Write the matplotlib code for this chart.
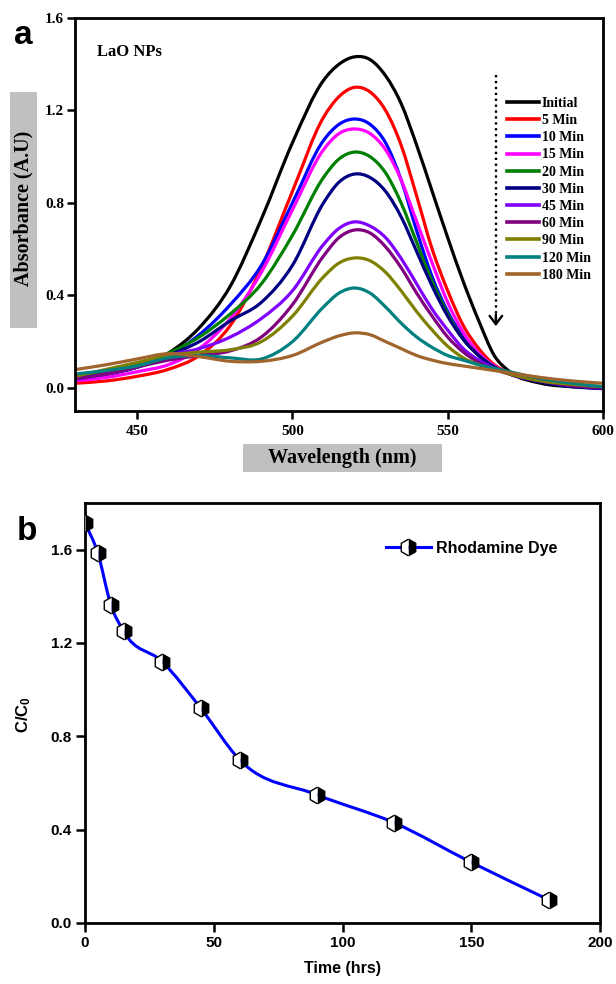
import numpy as np
import matplotlib
matplotlib.use("Agg")
import matplotlib.pyplot as plt
from matplotlib.path import Path
from matplotlib.patches import PathPatch, Rectangle
from matplotlib.lines import Line2D

# ---------------- data: panel a (UV-vis spectra) ----------------
wavelength = [430, 440, 450, 460, 470, 480, 490, 500, 510, 515, 520, 525,
              530, 535, 540, 545, 550, 555, 560, 565, 570, 580, 590, 600]

abs_initial = [0.04, 0.058, 0.09, 0.15, 0.26, 0.44, 0.73, 1.06, 1.33, 1.40, 1.432, 1.42,
               1.35, 1.23, 1.05, 0.85, 0.65, 0.46, 0.29, 0.14, 0.07, 0.02, 0.005, 0.0]
abs_5min = [0.02, 0.03, 0.05, 0.08, 0.14, 0.27, 0.52, 0.85, 1.17, 1.26, 1.30, 1.28,
            1.20, 1.05, 0.83, 0.60, 0.42, 0.27, 0.17, 0.10, 0.065, 0.03, 0.01, 0.005]
abs_10min = [0.035, 0.06, 0.09, 0.14, 0.23, 0.36, 0.53, 0.80, 1.07, 1.14, 1.163, 1.14,
             1.06, 0.90, 0.68, 0.48, 0.33, 0.22, 0.14, 0.09, 0.06, 0.03, 0.008, -0.003]
abs_15min = [0.03, 0.045, 0.07, 0.10, 0.17, 0.30, 0.50, 0.77, 1.03, 1.10, 1.12, 1.10,
             1.03, 0.90, 0.72, 0.54, 0.37, 0.24, 0.15, 0.095, 0.06, 0.03, 0.01, 0.0]
abs_20min = [0.05, 0.07, 0.10, 0.15, 0.22, 0.32, 0.45, 0.66, 0.91, 0.99, 1.02, 1.00,
             0.93, 0.80, 0.63, 0.46, 0.32, 0.21, 0.14, 0.09, 0.06, 0.03, 0.01, 0.0]
abs_30min = [0.04, 0.06, 0.09, 0.14, 0.20, 0.29, 0.37, 0.53, 0.80, 0.89, 0.925, 0.91,
             0.85, 0.74, 0.59, 0.44, 0.31, 0.21, 0.14, 0.09, 0.06, 0.025, 0.005, -0.003]
abs_45min = [0.035, 0.06, 0.09, 0.14, 0.17, 0.22, 0.30, 0.42, 0.62, 0.69, 0.718, 0.70,
             0.65, 0.56, 0.45, 0.34, 0.25, 0.17, 0.12, 0.085, 0.06, 0.03, 0.01, 0.0]
abs_60min = [0.04, 0.06, 0.09, 0.12, 0.14, 0.16, 0.22, 0.36, 0.57, 0.65, 0.683, 0.67,
             0.61, 0.52, 0.41, 0.31, 0.22, 0.155, 0.11, 0.08, 0.06, 0.03, 0.01, 0.0]
abs_90min = [0.05, 0.08, 0.11, 0.14, 0.155, 0.165, 0.20, 0.31, 0.48, 0.54, 0.562, 0.55,
             0.50, 0.42, 0.33, 0.25, 0.18, 0.13, 0.10, 0.08, 0.06, 0.03, 0.015, 0.005]
abs_120min = [0.06, 0.075, 0.095, 0.13, 0.14, 0.13, 0.125, 0.20, 0.35, 0.41, 0.432, 0.41,
              0.35, 0.28, 0.22, 0.175, 0.14, 0.12, 0.10, 0.085, 0.07, 0.04, 0.02, 0.005]
abs_180min = [0.079, 0.10, 0.125, 0.148, 0.135, 0.115, 0.115, 0.14, 0.20, 0.225, 0.238, 0.23,
              0.20, 0.17, 0.14, 0.12, 0.105, 0.095, 0.085, 0.075, 0.065, 0.045, 0.03, 0.02]

series_labels = ["Initial", "5 Min", "10 Min", "15 Min", "20 Min", "30 Min",
                 "45 Min", "60 Min", "90 Min", "120 Min", "180 Min"]
series_values = [abs_initial, abs_5min, abs_10min, abs_15min, abs_20min, abs_30min,
                 abs_45min, abs_60min, abs_90min, abs_120min, abs_180min]
series_colors = ["#000000", "#FF0000", "#0000FF", "#FF00FF", "#008000", "#000080",
                 "#8000FF", "#800080", "#808000", "#008080", "#A0642D"]

xticks_a = [450, 500, 550, 600]
yticks_a = [0.0, 0.4, 0.8, 1.2, 1.6]

# ---------------- data: panel b (degradation) ----------------
time_hrs = [0, 5, 10, 15, 30, 45, 60, 90, 120, 150, 180]
c_over_c0 = [1.715, 1.585, 1.365, 1.25, 1.12, 0.92, 0.70, 0.55, 0.43, 0.26, 0.10]

xticks_b = [0, 50, 100, 150, 200]
yticks_b = [0.0, 0.4, 0.8, 1.2, 1.6]


def smooth_path(x, y):
    """Cubic Hermite curve through the given points, as a Bezier path."""
    x = np.asarray(x, float)
    y = np.asarray(y, float)
    m = np.gradient(y, x)
    verts = [(x[0], y[0])]
    codes = [Path.MOVETO]
    for i in range(len(x) - 1):
        h = x[i + 1] - x[i]
        verts += [(x[i] + h / 3, y[i] + m[i] * h / 3),
                  (x[i + 1] - h / 3, y[i + 1] - m[i + 1] * h / 3),
                  (x[i + 1], y[i + 1])]
        codes += [Path.CURVE4] * 3
    return Path(verts, codes)


SERIF = "Liberation Serif"
SANS = "Liberation Sans"
plt.rcParams["mathtext.fontset"] = "custom"
plt.rcParams["mathtext.bf"] = "Liberation Sans:bold"
plt.rcParams["mathtext.rm"] = "Liberation Sans:bold"

W, H = 616, 984
fig = plt.figure(figsize=(W / 100, H / 100), dpi=100)


def fx(px):
    return px / W


def fy(py):
    return 1 - py / H


# ================= panel a =================
axa = fig.add_axes([fx(75), fy(411), fx(603) - fx(75), fy(18) - fy(411)])
axa.set_xlim(430, 600)
axa.set_ylim(-0.1, 1.6)
for vals, col in zip(series_values, series_colors):
    axa.add_patch(PathPatch(smooth_path(wavelength, vals), fill=False,
                            edgecolor=col, lw=2.3, capstyle="round",
                            joinstyle="round"))
tick_font_a = {"family": SERIF, "weight": "bold", "size": 11}
axa.set_xticks(xticks_a)
axa.set_xticklabels([str(v) for v in xticks_a], fontdict=tick_font_a)
axa.set_yticks(yticks_a)
axa.set_yticklabels([f"{v:.1f}" for v in yticks_a], fontdict=tick_font_a)
axa.tick_params(direction="out", length=6, width=1.8, top=False, right=False)
axa.tick_params(axis="x", pad=4)
axa.tick_params(axis="y", pad=2)
for sp in axa.spines.values():
    sp.set_linewidth(2)

axa.text((97 - 75) / 528, (411 - 52) / 393, "LaO NPs",
         transform=axa.transAxes, fontfamily=SERIF, fontweight="bold",
         fontsize=12, va="center", ha="left")

# dotted arrow
arrow_x = 565.5
axa.plot([arrow_x, arrow_x], [1.355, 0.28], color="black", lw=1.7,
         ls=(0, (1, 1.5)))
axa.annotate("", xy=(arrow_x, 0.255), xytext=(arrow_x, 0.33),
             arrowprops=dict(arrowstyle="->,head_length=0.6,head_width=0.45",
                             color="black", lw=1.7))

handles = [Line2D([], [], color=c, lw=2.6) for c in series_colors]
axa.legend(handles, series_labels, loc="upper left",
           bbox_to_anchor=((507 - 75) / 528, (411 - 97) / 393),
           frameon=False, borderpad=0, borderaxespad=0,
           handlelength=2.3, handletextpad=0.2, labelspacing=0.3,
           prop={"family": SERIF, "weight": "bold", "size": 10})

# gray label boxes
fig.patches.append(Rectangle((fx(10), fy(328)), fx(27), fy(92) - fy(328),
                             transform=fig.transFigure, facecolor="#C0C0C0",
                             edgecolor="none"))
fig.text(fx(23.5), fy(208), "Absorbance (A.U)", rotation=90, ha="center",
         va="center", fontfamily=SERIF, fontweight="bold", fontsize=14.5)
fig.patches.append(Rectangle((fx(243), fy(472)), fx(199), fy(444) - fy(472),
                             transform=fig.transFigure, facecolor="#C0C0C0",
                             edgecolor="none"))
fig.text(fx(342.5), fy(458), "Wavelength (nm)", ha="center", va="center",
         fontfamily=SERIF, fontweight="bold", fontsize=14.5)

fig.text(fx(23), fy(35), "a", ha="center", va="center", fontfamily=SANS,
         fontweight="bold", fontsize=24)

# ================= panel b =================
axb = fig.add_axes([fx(85), fy(923), fx(600) - fx(85), fy(503) - fy(923)])
axb.set_xlim(0, 200)
axb.set_ylim(0, 1.8)
axb.add_patch(PathPatch(smooth_path(time_hrs, c_over_c0), fill=False,
                        edgecolor="#0000FF", lw=2.2, zorder=2))
axb.plot(time_hrs, c_over_c0, ls="none", marker="h", markersize=12,
         fillstyle="right", markerfacecolor="black",
         markerfacecoloralt="white", markeredgecolor="black",
         markeredgewidth=1.0, zorder=3)
tick_font_b = {"family": SANS, "weight": "bold", "size": 11}
axb.set_xticks(xticks_b)
axb.set_xticklabels([str(v) for v in xticks_b], fontdict=tick_font_b)
axb.set_yticks(yticks_b)
axb.set_yticklabels([f"{v:.1f}" for v in yticks_b], fontdict=tick_font_b)
axb.tick_params(direction="out", length=6.5, width=1.8, top=False,
                right=False)
axb.tick_params(axis="x", pad=3)
axb.tick_params(axis="y", pad=3)
for sp in axb.spines.values():
    sp.set_linewidth(2)

axb.set_xlabel("Time (hrs)", fontfamily=SANS, fontweight="bold",
               fontsize=11.5, labelpad=8)
fig.text(fx(24), fy(715), r"$\mathbf{C/C_0}$", rotation=90, ha="center",
         va="center", fontsize=12)

hb = Line2D([], [], color="#0000FF", lw=2.2, marker="h", markersize=12,
            fillstyle="right", markerfacecolor="black",
            markerfacecoloralt="white", markeredgecolor="black",
            markeredgewidth=1.0)
axb.legend([hb], ["Rhodamine Dye"], loc="center left",
           bbox_to_anchor=((386 - 85) / 515, (923 - 548) / 420),
           frameon=False, borderpad=0, borderaxespad=0, handlelength=2.8,
           handletextpad=0.35,
           prop={"family": SANS, "weight": "bold", "size": 11.5})

fig.text(fx(27), fy(531), "b", ha="center", va="center", fontfamily=SANS,
         fontweight="bold", fontsize=24)

fig.savefig("out.png", dpi=100)
